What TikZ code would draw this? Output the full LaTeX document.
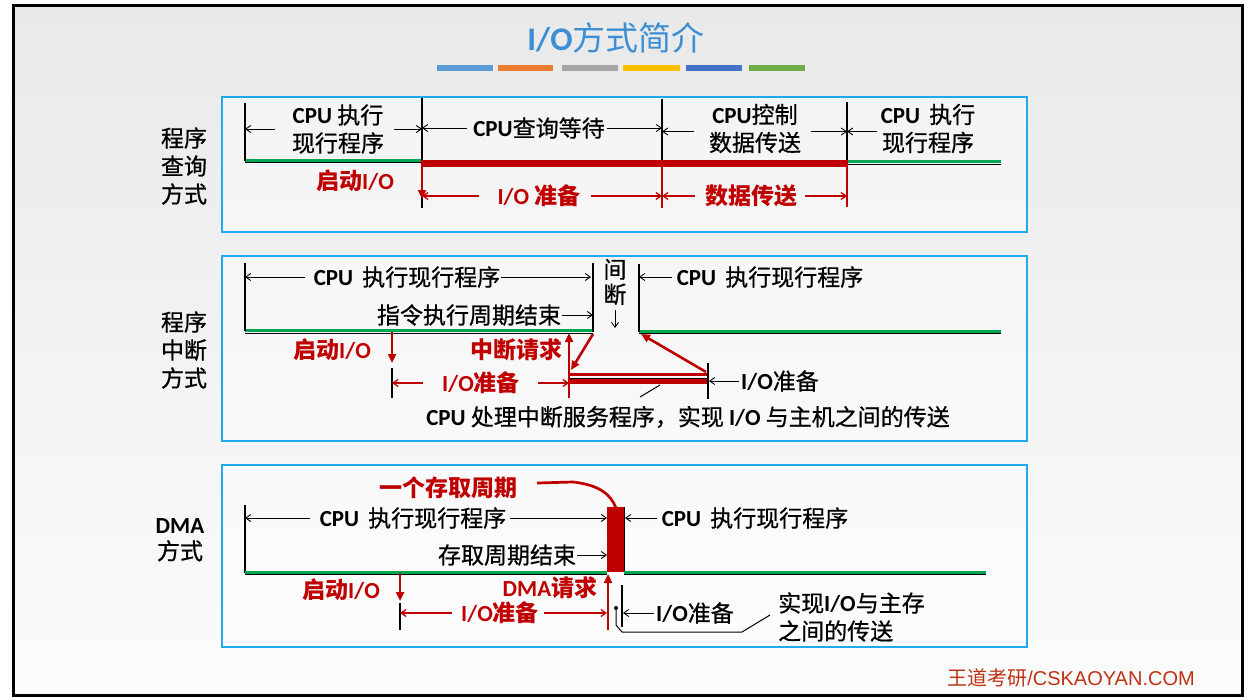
\documentclass[tikz,border=0pt]{standalone}
\usepackage{fontspec}
\setmainfont{Noto Sans CJK SC}[UprightFeatures={FakeBold=0.7}]
\newfontfamily\lat{Carlito}
\newfontfamily\wmlat{Liberation Sans}
\newfontfamily\ttlfont{Noto Sans CJK SC}
\usetikzlibrary{arrows.meta}
\newcommand{\EN}[1]{{\lat\bfseries #1}}
\definecolor{dred}{RGB}{192,0,0}
\definecolor{dgreen}{RGB}{0,166,80}
\definecolor{pblue}{RGB}{30,170,235}
\definecolor{ttl}{RGB}{61,143,213}
\definecolor{bgtop}{RGB}{233,233,233}
\definecolor{bgbot}{RGB}{252,252,252}
\definecolor{wmc}{RGB}{190,50,20}
\definecolor{b1}{RGB}{91,155,213}
\definecolor{b2}{RGB}{237,125,49}
\definecolor{b3}{RGB}{165,165,165}
\definecolor{b4}{RGB}{255,192,0}
\definecolor{b5}{RGB}{68,114,196}
\definecolor{b6}{RGB}{112,173,71}
\tikzset{
  txt/.style={inner sep=0pt, align=center, text=black, font=\fontsize{23}{28}\selectfont},
  rtxt/.style={inner sep=0pt, align=center, text=dred, font=\fontsize{23}{28}\selectfont\bfseries},
  ba/.style={-{Straight Barb[length=5pt,width=7pt]}, line width=0.9pt},
  ra/.style={draw=dred, -{Straight Barb[length=5pt,width=7pt]}, line width=1.3pt},
  rta/.style={draw=dred, -{Triangle[length=9pt,width=8pt]}, line width=2.6pt},
  vl/.style={line width=2pt},
  gl/.style={draw=dgreen, line width=3pt},
  shl/.style={line width=1pt},
  panel/.style={draw=pblue, line width=1.5pt, fill=white, fill opacity=0.45},
}
\begin{document}
\begin{tikzpicture}[x=1pt,y=-1pt]
\useasboundingbox (0,0) rectangle (1244,698);
\fill[white] (0,0) rectangle (1244,698);
\shade[top color=bgtop, bottom color=bgbot] (13,6) rectangle (1242,695);
\draw[line width=3pt] (13,6) rectangle (1242,695);

% title
\node[inner sep=0pt, text=ttl, font=\fontsize{33}{38}\ttlfont] (title) at (616,38) {\EN{I/O}方式简介};
\fill[b1] (437,65) rectangle (493,71);
\fill[b2] (498,65) rectangle (553,71);
\fill[b3] (562,65) rectangle (618,71);
\fill[b4] (623,65) rectangle (680,71);
\fill[b5] (686,65) rectangle (742,71);
\fill[b6] (749,65) rectangle (805,71);

% panels
\path[panel] (222,97) rectangle (1027,232);
\path[panel] (222,256) rectangle (1027,441);
\path[panel] (222,465) rectangle (1027,647);

% left labels
\node[txt] (lab1) at (184,166) {程序\\查询\\方式};
\node[txt] (lab2) at (184,350) {程序\\中断\\方式};
\node[txt, font=\fontsize{23}{26}\selectfont] (lab3) at (180,540) {\EN{DMA}\\方式};

% ================= panel 1 =================
\coordinate (A1) at (245,0);
\coordinate (B1) at (422,0);
\coordinate (C1) at (662,0);
\coordinate (D1) at (847,0);
\draw[shl] (245,162.5) -- (422,162.5);
\draw[gl] (245,160) -- (422,160);
\draw[shl] (847,164) -- (1001,164);
\draw[gl] (847,161.5) -- (1001,161.5);
\draw[vl] (245,103) -- (245,161);
\draw[vl] (422,98) -- (422,160);
\draw[vl] (662,99) -- (662,160);
\draw[vl] (847,102) -- (847,162);
\draw[dred, line width=7pt] (421,163.5) -- (848,163.5);
\draw[dred, line width=2pt] (662,166) -- (662,208);
\draw[dred, line width=2pt] (847,166) -- (847,207);
\draw[vl] (422,190) -- (422,208);
\draw[rta, line width=2pt] (422,166) -- (422,199);

\node[txt] (p1a) at (338,129) {\EN{CPU} 执行\\现行程序};
\node[txt] (p1b) at (539,128) {\EN{CPU}查询等待};
\node[txt] (p1c) at (755,128.5) {\EN{CPU}控制\\数据传送};
\node[txt] (p1d) at (928,128.5) {\EN{CPU}\hspace{9pt}执行\\现行程序};
\draw[ba] ([xshift=-17pt]p1a.west) -- (A1 |- p1a.west);
\draw[ba] ([xshift=10pt]p1a.east) -- (B1 |- p1a.east);
\draw[ba] ([xshift=-6pt]p1b.west) -- (B1 |- p1b.west);
\draw[ba] ([xshift=2pt]p1b.east) -- (C1 |- p1b.east);
\draw[ba] ([xshift=-15pt,yshift=-3pt]p1c.west) -- ([yshift=-3pt]C1 |- p1c.west);
\draw[ba] ([xshift=10pt,yshift=-3pt]p1c.east) -- ([yshift=-3pt]D1 |- p1c.east);
\draw[ba] ([xshift=-4pt,yshift=-3pt]p1d.west) -- ([yshift=-3pt]D1 |- p1d.west);

\node[rtxt] (r1a) at (355,181) {启动\EN{I/O}};
\node[rtxt] (r1b) at (539,196) {\EN{I/O} 准备};
\node[rtxt] (r1c) at (751,196) {数据传送};
\draw[ra] ([xshift=-18pt]r1b.west) -- (B1 |- r1b.west);
\draw[ra] ([xshift=10pt]r1b.east) -- (C1 |- r1b.east);
\draw[ra] ([xshift=-10pt]r1c.west) -- (C1 |- r1c.west);
\draw[ra] ([xshift=8pt]r1c.east) -- (D1 |- r1c.east);

% ================= panel 2 =================
\coordinate (A2) at (245,0);
\coordinate (B2) at (593,0);
\coordinate (C2) at (639,0);
\coordinate (D2) at (708,0);
\coordinate (S2) at (392,0);
\coordinate (Q2) at (569,0);
\draw[shl] (245,333) -- (593,333);
\draw[gl] (245,330.5) -- (593,330.5);
\draw[shl] (639,333.5) -- (1001,333.5);
\draw[gl] (639,331) -- (1001,331);
\draw[vl] (245,263) -- (245,331);
\draw[vl] (593,263) -- (593,332);
\draw[vl] (639,264) -- (639,332);

\node[txt] (p2a) at (407,277) {\EN{CPU}\hspace{9pt}执行现行程序};
\node[txt] (p2b) at (469,315) {指令执行周期结束};
\node[txt, font=\fontsize{23}{25}\selectfont] (p2i) at (615,282) {间\\断};
\coordinate (i2a) at (615,310);
\coordinate (i2b) at (615,328);
\draw[ba, line width=0.8pt] (i2a) -- (i2b);
\node[txt] (p2c) at (770,277) {\EN{CPU}\hspace{9pt}执行现行程序};
\draw[ba] ([xshift=-9pt]p2a.west) -- (A2 |- p2a.west);
\draw[ba] ([xshift=1pt]p2a.east) -- ([xshift=-2pt]B2 |- p2a.east);
\draw[ba] ([xshift=1pt]p2b.east) -- (B2 |- p2b.east);
\draw[ba] ([xshift=-5pt]p2c.west) -- (C2 |- p2c.west);

\node[rtxt] (r2a) at (332,350) {启动\EN{I/O}};
\node[rtxt] (r2c) at (516,350) {中断请求};
\node[rtxt] (r2b) at (481,383) {\EN{I/O}准备};
\draw[rta] (392,332) -- (392,363);
\draw[vl] (392,368) -- (392,398);
\draw[ra] ([xshift=-19pt]r2b.west) -- (S2 |- r2b.west);
\draw[ra] ([xshift=18pt]r2b.east) -- (Q2 |- r2b.east);
\draw[dred, line width=3.5pt] (569,374.5) -- (708,374.5);
\draw[line width=1pt] (569,378) -- (708,378);
\draw[dred, line width=4.5pt] (569,381.5) -- (708,381.5);
\draw[rta] (569,398) -- (569,333);
\draw[rta] (593,334) -- (571,370);
\draw[vl] (708,363) -- (708,399);
\draw[rta] (706,372) -- (641,334);

\node[txt] (p2d) at (780,381) {\EN{I/O}准备};
\draw[ba] ([xshift=-2pt]p2d.west) -- ([xshift=1pt]D2 |- p2d.west);
\node[txt] (p2e) at (688,417) {\EN{CPU} 处理中断服务程序，实现 \EN{I/O} 与主机之间的传送};
\coordinate (k2a) at (640,397);
\coordinate (k2b) at (660,385);
\draw[line width=1pt] (k2a) -- (k2b);

% ================= panel 3 =================
\coordinate (A3) at (245,0);
\coordinate (B3) at (607,0);
\coordinate (C3) at (624,0);
\coordinate (S3) at (400,0);
\coordinate (V3) at (622,0);
\node[rtxt] (r3top) at (448,488) {一个存取周期};
\draw[dred, line width=2.7pt] (537,483) -- (573,482) .. controls (600,485) and (611,495) .. (616,508);
\fill[dred] (607,507) rectangle (624,572);
\draw[line width=1pt] (624,507) -- (624,572);
\draw[vl] (245,505) -- (245,573);
\draw[shl] (245,574.5) -- (607,574.5);
\draw[gl] (245,572) -- (607,572);
\draw[shl] (624,574.5) -- (986,574.5);
\draw[gl] (624,572) -- (986,572);

\node[txt] (p3a) at (413,518) {\EN{CPU}\hspace{9pt}执行现行程序};
\node[txt] (p3b) at (507,555) {存取周期结束};
\node[txt] (p3c) at (755,518) {\EN{CPU}\hspace{9pt}执行现行程序};
\draw[ba] ([xshift=-10pt]p3a.west) -- (A3 |- p3a.west);
\draw[ba] ([xshift=4pt]p3a.east) -- (B3 |- p3a.east);
\draw[ba] ([xshift=1pt]p3b.east) -- (B3 |- p3b.east);
\draw[ba] ([xshift=-5pt]p3c.west) -- ([xshift=1pt]C3 |- p3c.west);

\node[rtxt] (r3a) at (341,590) {启动\EN{I/O}};
\node[rtxt] (r3d) at (550,588) {\EN{DMA}请求};
\node[rtxt] (r3c) at (500,613) {\EN{I/O}准备};
\draw[rta] (400,573) -- (400,601);
\draw[vl] (400,603) -- (400,630);
\draw[ra] ([xshift=-9pt]r3c.west) -- (S3 |- r3c.west);
\draw[ra] ([xshift=5pt]r3c.east) -- (B3 |- r3c.east);
\draw[rta] (608,630) -- (608,574);

\draw[line width=1.5pt] (622,585) -- (622,627);
\node[txt] (p3d) at (695,613) {\EN{I/O}准备};
\draw[ba] ([xshift=-2pt]p3d.west) -- ([xshift=1pt]V3 |- p3d.west);
\node[txt, align=left, anchor=west] (p3e) at (778,617) {实现\EN{I/O}与主存\\之间的传送};
\coordinate (k3a) at (616,608);
\fill (k3a) circle (2pt);
\draw[line width=1pt] (k3a) -- (616,625) -- (622,632) -- (742,632) -- (770,615);

% watermark
\node[inner sep=0pt, text=wmc, font=\fontsize{20}{24}\selectfont\ttlfont] (wm) at (1071,678) {王道考研{\wmlat /CSKAOYAN.COM}};
\end{tikzpicture}
\end{document}
